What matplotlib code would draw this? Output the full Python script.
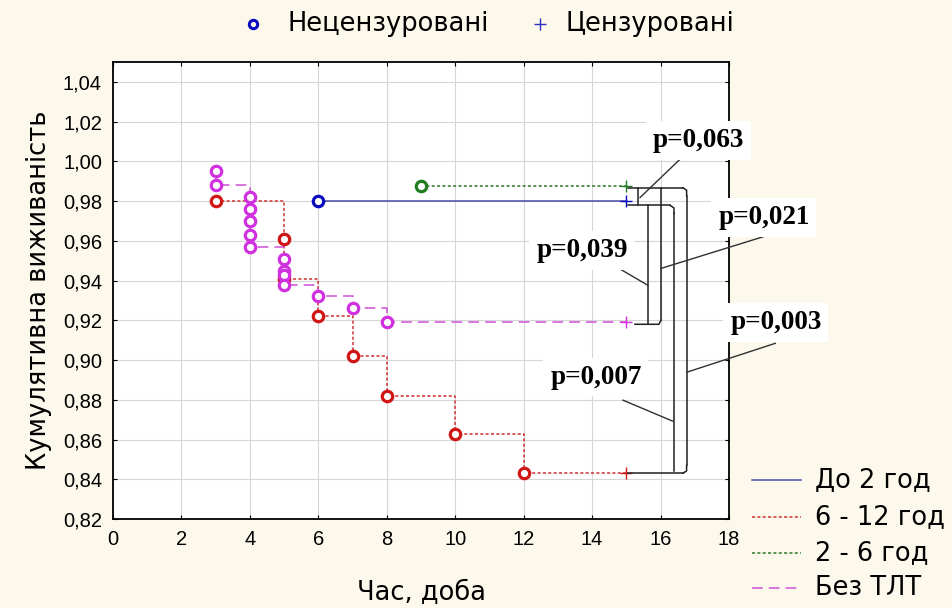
import numpy as np
import matplotlib.pyplot as plt
from matplotlib.lines import Line2D

# step data: event times and cumulative survival after each event (last point = censored)
t_do2 = [6, 15]
s_do2 = [0.980, 0.980]

t_6_12 = [3, 5, 5, 6, 7, 8, 10, 12, 15]
s_6_12 = [0.980, 0.961, 0.941, 0.922, 0.902, 0.882, 0.863, 0.843, 0.843]

t_2_6 = [9, 15]
s_2_6 = [0.9875, 0.9875]

t_bez = [3, 3, 4, 4, 4, 4, 4, 5, 5, 5, 5, 6, 7, 8, 15]
s_bez = [0.995, 0.988, 0.982, 0.976, 0.970, 0.963, 0.957, 0.951, 0.945, 0.943, 0.938,
         0.932, 0.926, 0.919, 0.919]

series = [
    ('До 2 год', t_do2, s_do2, '#4a4aa8', '-', '#0a0ac0'),
    ('6 - 12 год', t_6_12, s_6_12, '#d03030', (0, (2, 1.5)), '#d01515'),
    ('2 - 6 год', t_2_6, s_2_6, '#2a7a2a', (0, (2, 1.5)), '#1f7f1f'),
    ('Без ТЛТ', t_bez, s_bez, '#d050d8', (0, (7, 4)), '#d030e0'),
]

# p-values of pairwise comparisons
p_labels = ['p=0,063', 'p=0,021', 'p=0,039', 'p=0,003', 'p=0,007']

bg = '#fdf8ec'
W, H = 952, 608
plt.rcParams['font.family'] = ['Liberation Sans', 'DejaVu Sans']
big = ['DejaVu Sans']

fig = plt.figure(figsize=(9.52, 6.08), dpi=100, facecolor=bg)
ax = fig.add_axes([0.1187, 0.1464, 0.6471, 0.7516])
ax.set_facecolor('white')

for name, t, s, lc, ls, mc in series:
    ax.step(t, s, where='post', color=lc, ls=ls, lw=1.1, zorder=3)
    ax.plot(t[:-1], s[:-1], 'o', ms=7.5, mfc='white', mec=mc, mew=2.3, zorder=4)
    ax.plot(t[-1], s[-1], '+', ms=9, color=mc, mew=1.0, zorder=4)

ax.set_xlim(0, 18)
ax.set_ylim(0.82, 1.05)
ax.set_xticks(np.arange(0, 19, 2))
yt = np.arange(0.82, 1.041, 0.02)
ax.set_yticks(yt)
ax.set_yticklabels([('%.2f' % v).replace('.', ',') for v in yt])
ax.grid(True, color='#d6d6d6', lw=0.8)
ax.set_axisbelow(True)
ax.tick_params(direction='in', length=3, labelsize=14.5, top=True, right=True, pad=8)
for sp in ax.spines.values():
    sp.set_linewidth(1.3)
ax.set_xlabel('Час, доба', fontsize=18.5, family=big, labelpad=22)
ax.set_ylabel('Кумулятивна виживаність', fontsize=18.5, family=big, labelpad=8)

# brackets joining compared curves
kw = dict(color='#202020', lw=1.1, zorder=5, clip_on=False)
yg, yb, ym, yr = 0.9867, 0.9778, 0.918, 0.843
ax.plot([15.06, 16.65], [yg, yg], **kw)
ax.plot([16.65, 16.76, 16.76], [yg, yg - 0.0012, yg - 0.004], **kw)
ax.plot([16.76, 16.76], [yg - 0.004, yr + 0.004], **kw)
ax.plot([16.76, 16.76, 16.65], [yr + 0.004, yr + 0.0012, yr], **kw)
ax.plot([15.06, 16.65], [yr, yr], **kw)
ax.plot([15.06, 16.28], [yb, yb], **kw)
ax.plot([16.28, 16.39, 16.39], [yb, yb - 0.0012, yb - 0.004], **kw)
ax.plot([16.39, 16.39], [yb - 0.004, yr + 0.001], **kw)
ax.plot([15.35, 15.35], [yg, yb], **kw)
ax.plot([16.01, 16.01], [yg, ym + 0.002], **kw)
ax.plot([15.64, 15.64], [yb, ym], **kw)
ax.plot([15.25, 15.95, 16.01], [ym, ym, ym + 0.002], **kw)

bbox = dict(boxstyle='square,pad=0.25', fc='white', ec='none')
ann = [
    (p_labels[0], (17.10, 1.0105), (16.77, 1.0044), (15.40, 0.9818)),
    (p_labels[1], (19.02, 0.9718), (19.40, 0.9642), (16.01, 0.9461)),
    (p_labels[2], (13.70, 0.9552), (14.23, 0.9517), (15.63, 0.9376)),
    (p_labels[3], (19.37, 0.9190), (19.35, 0.9084), (16.77, 0.8939)),
    (p_labels[4], (14.11, 0.8914), (14.90, 0.8798), (16.36, 0.8692)),
]
for txt, pos, a, b in ann:
    ax.plot([a[0], b[0]], [a[1], b[1]], color='#303030', lw=1.0, zorder=6, clip_on=False)
    ax.text(pos[0], pos[1], txt, ha='center', va='center', fontsize=19.5,
            fontweight='bold', family='Liberation Serif', bbox=bbox, zorder=7,
            clip_on=False)

# top legend (censoring markers)
ty = 1 - 24 / H
fig.add_artist(Line2D([253 / W], [ty], ls='none', marker='o', ms=6, mfc='none',
                      mec='#0a0ac0', mew=2.2, transform=fig.transFigure))
fig.text(287 / W, ty, 'Нецензуровані', fontsize=18.5, family=big, va='center')
fig.add_artist(Line2D([540 / W], [ty], ls='none', marker='+', ms=8, color='#3030c0',
                      mew=1.0, transform=fig.transFigure))
fig.text(566 / W, ty, 'Цензуровані', fontsize=18.5, family=big, va='center')

# series legend
rows = [480, 517, 553, 588]
for (name, _, _, lc, ls, _), ry in zip(series, rows):
    yy = 1 - ry / H
    fig.add_artist(Line2D([752 / W, 801 / W], [yy, yy], color=lc, ls=ls, lw=1.1,
                          transform=fig.transFigure))
    fig.text(815 / W, yy, name, fontsize=18.5, family=big, va='center')

fig.savefig('out.png', dpi=100, facecolor=bg)
